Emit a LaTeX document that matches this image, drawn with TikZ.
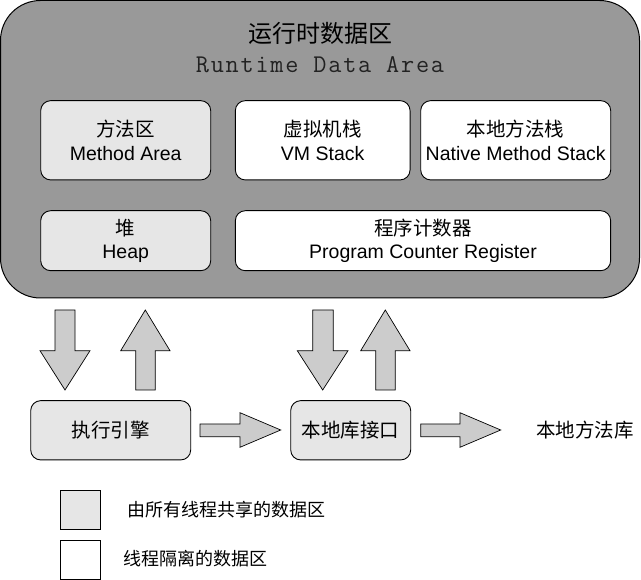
\documentclass[tikz,border=0pt]{standalone}
\usepackage{fontspec}
\setmainfont{Liberation Sans}
\newfontfamily\cjk{Noto Sans CJK SC}
\newfontfamily\lmmono[LetterSpace=7]{Latin Modern Mono}
\definecolor{bigfill}{HTML}{999999}
\definecolor{sharedfill}{HTML}{E6E6E6}
\definecolor{arrowfill}{HTML}{CCCCCC}
\definecolor{monogray}{HTML}{222222}
\begin{document}
\begin{tikzpicture}[x=1pt,y=-1pt,
  bigbox/.style={draw=black,line width=1pt,fill=bigfill,rounded corners=40pt,inner sep=0pt},
  areabox/.style={draw=black,line width=0.9pt,rounded corners=10pt,inner sep=0pt,align=center,
    font=\fontsize{19.5}{23.4}\selectfont},
  sharedbox/.style={areabox,fill=sharedfill},
  ownbox/.style={areabox,fill=white},
  blockarrow/.style={draw=black,line width=0.7pt,fill=arrowfill,line join=miter},
  legendbox/.style={draw=black,line width=0.9pt,minimum width=40pt,minimum height=39.3pt,inner sep=0pt},
  plaintext/.style={inner sep=0pt,font=\fontsize{19.5}{23.4}\selectfont},
  legendtext/.style={inner sep=0pt,anchor=west,font=\fontsize{18}{21}\selectfont}
]
\useasboundingbox (0,0) rectangle (641,580);

% runtime data area
\node[bigbox,minimum width=639pt,minimum height=297.5pt] (rda) at (320,149.25) {};
\node[inner sep=0pt,font=\fontsize{24}{28}\selectfont] (title) at (320,33) {\cjk 运行时数据区};
\node[inner sep=0pt,text=monogray,font=\lmmono\fontsize{25.5}{30}\selectfont] (title2) at (320,64.5) {Runtime Data Area};

\node[sharedbox,minimum width=170pt,minimum height=79.3pt] (ma) at (125.7,140.3)
  {{\cjk 方法区}\\Method Area};
\node[ownbox,minimum width=174.7pt,minimum height=79.3pt] (vm) at (322.7,140.3)
  {{\cjk 虚拟机栈}\\VM Stack};
\node[ownbox,minimum width=190pt,minimum height=79.3pt] (nms) at (515.7,140.3)
  {{\cjk 本地方法栈}\\Native Method Stack};
\node[sharedbox,minimum width=170pt,minimum height=60pt] (heap) at (125.7,240.7)
  {{\cjk 堆}\\Heap};
\node[ownbox,minimum width=375.3pt,minimum height=60pt] (pc) at (423,240.7)
  {{\cjk 程序计数器}\\Program Counter Register};

% lower row
\node[sharedbox,minimum width=160pt,minimum height=59.3pt] (ee) at (110.7,430.3) {\cjk 执行引擎};
\node[sharedbox,minimum width=120pt,minimum height=59.3pt] (nli) at (350.7,430.3) {\cjk 本地库接口};
\node[plaintext] (lib) at (585,430) {\cjk 本地方法库};

% block arrows
\draw[blockarrow] (55,310) -- (75,310) -- (75,350.7) -- (90,350.7) -- (65,390) -- (40,350.7) -- (55,350.7) -- cycle;
\draw[blockarrow] (135.7,390) -- (155.3,390) -- (155.3,350.7) -- (170,350.7) -- (145.3,310) -- (120.7,350.7) -- (135.7,350.7) -- cycle;
\draw[blockarrow] (312.7,310) -- (333.3,310) -- (333.3,350.7) -- (348,350.7) -- (322.7,390) -- (297.3,350.7) -- (312.7,350.7) -- cycle;
\draw[blockarrow] (375.7,390) -- (395.3,390) -- (395.3,350.7) -- (410,350.7) -- (385.3,310) -- (360.7,350.7) -- (375.7,350.7) -- cycle;
\draw[blockarrow] (200,424) -- (240,424) -- (240,412.7) -- (280.7,430) -- (240,447.3) -- (240,436.7) -- (200,436.7) -- cycle;
\draw[blockarrow] (420.7,424) -- (460,424) -- (460,412.7) -- (500.7,430) -- (460,447.3) -- (460,436.7) -- (420.7,436.7) -- cycle;

% legend
\node[legendbox,fill=sharedfill] (lg1) at (80,509.7) {};
\node[legendbox,fill=white] (lg2) at (80,559.7) {};
\node[legendtext] (lt1) at (127.3,510) {\cjk 由所有线程共享的数据区};
\node[legendtext] (lt2) at (123.3,558.3) {\cjk 线程隔离的数据区};
\end{tikzpicture}
\end{document}
